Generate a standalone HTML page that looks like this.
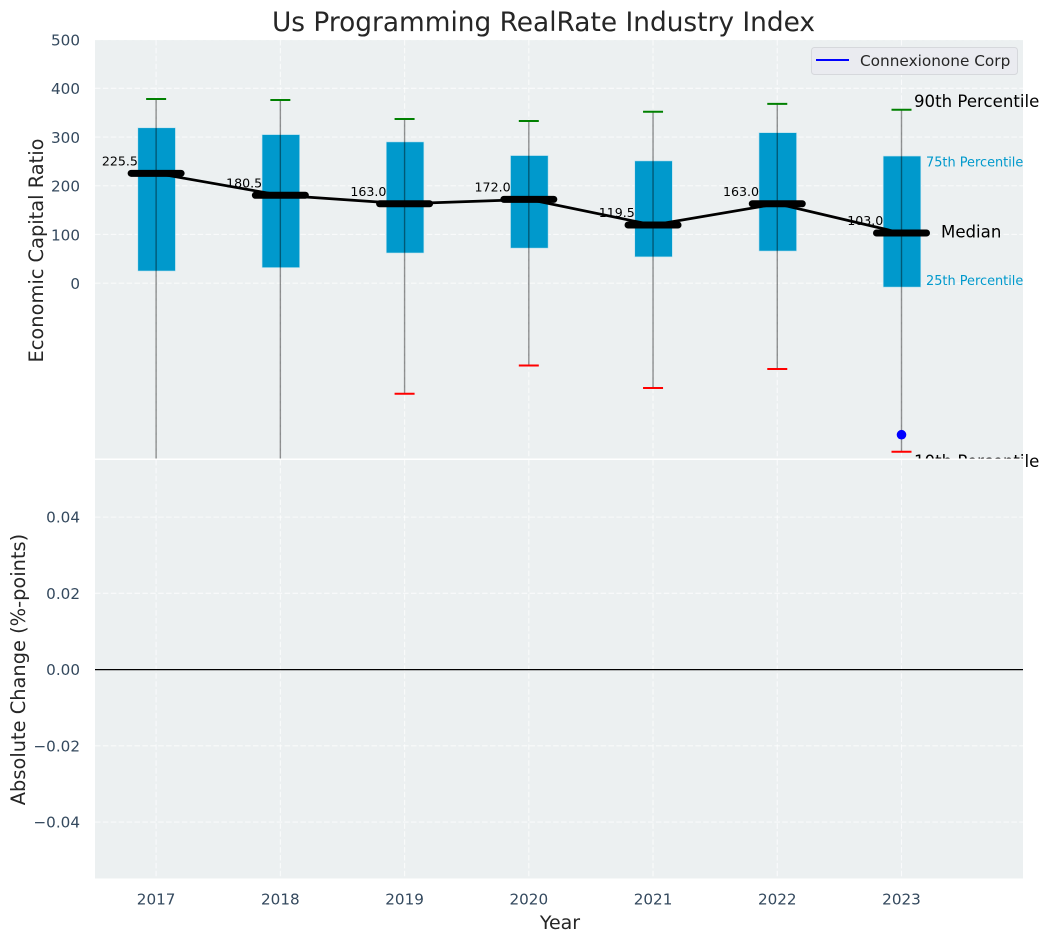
<!DOCTYPE html>
<html>
<head>
<meta charset="utf-8">
<title>Us Programming RealRate Industry Index</title>
<style>
html,body{margin:0;padding:0;background:#fff;}
svg{display:block;font-family:"DejaVu Sans","Liberation Sans",sans-serif;}
</style>
</head>
<body>
<svg id="chart" xmlns="http://www.w3.org/2000/svg" width="1049" height="942" viewBox="0 0 1049 942"></svg>
<script>
const years = [2017, 2018, 2019, 2020, 2021, 2022, 2023];
const p90 = [378, 376, 337, 333, 352, 368, 356];
const q3 = [319, 305, 290, 262, 251, 309, 261];
const medians = [225.5, 180.5, 163.0, 172.0, 119.5, 163.0, 103.0];
const q1 = [25, 32, 62, 72, 54, 66, -8];
const p10 = [-420, -420, -227, -169, -215, -176, -346];
const companyYears = [2023];
const companyValues = [-311];
const topTicks = [0, 100, 200, 300, 400, 500];
const bottomTicks = [-0.04, -0.02, 0, 0.02, 0.04];
const changeBaseline = [0];

const svg = document.getElementById('chart');
const NS = 'http://www.w3.org/2000/svg';
const L = 95, R = 1023, T1 = 40, B1 = 458.5, T2 = 460, B2 = 878.5;
const xScale = v => L + (v - 2016.508) * (R - L) / (2023.978 - 2016.508);
const yTop = v => 283.2 - v * 0.4872;
const yBot = v => 669.6 - v * 3812;
const DASH = '5.5 2.4';
const GRID_OPACITY = 0.72;

function add(parent, tag, attrs, text) {
  const el = document.createElementNS(NS, tag);
  for (const k in attrs) el.setAttribute(k, attrs[k]);
  if (text !== undefined) el.textContent = text;
  parent.appendChild(el);
  return el;
}
function fmtBot(v) {
  const s = Math.abs(v).toFixed(2);
  return v < 0 ? '\u2212' + s : s;
}

const defs = add(svg, 'defs', {});
const clip = add(defs, 'clipPath', {id: 'clipTop'});
add(clip, 'rect', {x: L, y: T1, width: R - L, height: B1 - T1});

/* Top panel */
const topPanel = add(svg, 'g', {});



const topBg = add(topPanel, 'rect', {x: L, y: T1, width: R - L, height: B1 - T1, fill: '#ecf0f1'});



topTicks.forEach(t => {
  const g = add(topPanel, 'line', {x1: L, x2: R, y1: yTop(t), y2: yTop(t), stroke: '#fff', 'stroke-width': 1.1, 'stroke-dasharray': DASH, opacity: GRID_OPACITY});
  
  
  const lab = add(svg, 'text', {x: 80, y: yTop(t) + 5.8, 'text-anchor': 'end', 'font-size': 15.2, fill: '#34495e'}, String(t));
  
  
});
years.forEach(y => {
  const g = add(topPanel, 'line', {x1: xScale(y), x2: xScale(y), y1: T1, y2: B1, stroke: '#fff', 'stroke-width': 1.1, 'stroke-dasharray': DASH, opacity: GRID_OPACITY});
  
  
});

const marks = add(topPanel, 'g', {'clip-path': 'url(#clipTop)'});



years.forEach((y, i) => {
  const x = xScale(y);
  const box = add(marks, 'rect', {x: x - 18.3, y: yTop(q3[i]), width: 37.6, height: yTop(q1[i]) - yTop(q3[i]), fill: '#0099cc', stroke: '#bfe3ef', 'stroke-width': 0.6});
  
  
});
years.forEach((y, i) => {
  const lab = add(marks, 'text', {x: xScale(y) - 18.2, y: yTop(medians[i]) - 8, 'text-anchor': 'end', 'font-size': 12.6, fill: '#000'}, medians[i].toFixed(1));
  
  
});
years.forEach((y, i) => {
  const x = xScale(y);
  const wh = add(marks, 'line', {x1: x, x2: x, y1: yTop(p90[i]), y2: yTop(p10[i]), stroke: '#000', 'stroke-opacity': 0.42, 'stroke-width': 1.4});
  
  
  const c1 = add(marks, 'line', {x1: x - 10, x2: x + 10, y1: yTop(p90[i]), y2: yTop(p90[i]), stroke: '#008000', 'stroke-width': 2});
  
  
  const c2 = add(marks, 'line', {x1: x - 10, x2: x + 10, y1: yTop(p10[i]), y2: yTop(p10[i]), stroke: '#ff0000', 'stroke-width': 2});
  
  
});

const medianLine = add(marks, 'polyline', {points: years.map((y, i) => xScale(y) + ',' + yTop(medians[i])).join(' '), fill: 'none', stroke: '#000', 'stroke-width': 2.7});



years.forEach((y, i) => {
  const x = xScale(y);
  const m = add(marks, 'line', {x1: x - 25, x2: x + 25, y1: yTop(medians[i]), y2: yTop(medians[i]), stroke: '#000', 'stroke-width': 7, 'stroke-linecap': 'round'});
  
  
});

companyYears.forEach((y, i) => {
  const dot = add(marks, 'circle', {cx: xScale(y), cy: yTop(companyValues[i]), r: 4.8, fill: '#0000ff'});
  
  
});

/* Annotations on last year */
const last = years.length - 1;
const lastX = xScale(years[last]);
const a90 = add(svg, 'text', {x: lastX + 12.5, y: yTop(p90[last]) - 3, 'font-size': 16.6, fill: '#000'}, '90th Percentile');


const a75 = add(svg, 'text', {x: lastX + 24.5, y: yTop(q3[last]) + 10.5, 'font-size': 12.9, fill: '#0099cc'}, '75th Percentile');


const aMed = add(svg, 'text', {x: lastX + 39.5, y: yTop(medians[last]) + 4.5, 'font-size': 16.6, fill: '#000'}, 'Median');


const a25 = add(svg, 'text', {x: lastX + 24.5, y: yTop(q1[last]) - 2, 'font-size': 12.9, fill: '#0099cc'}, '25th Percentile');


const a10 = add(svg, 'text', {x: lastX + 12.5, y: yTop(p10[last]) + 15, 'font-size': 16.6, fill: '#000'}, '10th Percentile');



/* Legend */
const legend = add(svg, 'g', {});


const legBox = add(legend, 'rect', {x: 811.5, y: 47.5, width: 206, height: 27, rx: 3, fill: '#eaebf0', stroke: '#d6d8dc', 'stroke-width': 1});


const legLine = add(legend, 'line', {x1: 816, x2: 849, y1: 60, y2: 60, stroke: '#0000ff', 'stroke-width': 2});


const legText = add(legend, 'text', {x: 860, y: 66, 'font-size': 15.3, fill: '#262626'}, 'Connexionone Corp');



/* Bottom panel */
const botPanel = add(svg, 'g', {});


const sep = add(botPanel, 'rect', {x: 0, y: B1, width: R, height: T2 - B1, fill: '#fff'});


const botBg = add(botPanel, 'rect', {x: L, y: T2, width: R - L, height: B2 - T2, fill: '#ecf0f1'});



bottomTicks.forEach(t => {
  const g = add(botPanel, 'line', {x1: L, x2: R, y1: yBot(t), y2: yBot(t), stroke: '#fff', 'stroke-width': 1.1, 'stroke-dasharray': DASH, opacity: GRID_OPACITY});
  
  
  const lab = add(svg, 'text', {x: 80, y: yBot(t) + 5.5, 'text-anchor': 'end', 'font-size': 15.2, fill: '#34495e'}, fmtBot(t));
  
  
});
years.forEach(y => {
  const g = add(botPanel, 'line', {x1: xScale(y), x2: xScale(y), y1: T2, y2: B2, stroke: '#fff', 'stroke-width': 1.1, 'stroke-dasharray': DASH, opacity: GRID_OPACITY});
  
  
  const lab = add(svg, 'text', {x: xScale(y), y: 904.5, 'text-anchor': 'middle', 'font-size': 15.2, fill: '#34495e'}, String(y));
  
  
});
changeBaseline.forEach(v => {
  const z = add(botPanel, 'line', {x1: L, x2: R, y1: yBot(v), y2: yBot(v), stroke: '#000', 'stroke-width': 1.2});
  
  
});

/* Titles */
const title = add(svg, 'text', {x: 543.5, y: 31, 'text-anchor': 'middle', 'font-size': 26.4, fill: '#262626'}, 'Us Programming RealRate Industry Index');


const yt1 = add(svg, 'text', {x: 0, y: 0, transform: 'translate(43,250.5) rotate(-90)', 'text-anchor': 'middle', 'font-size': 19.4, fill: '#262626'}, 'Economic Capital Ratio');


const yt2 = add(svg, 'text', {x: 0, y: 0, transform: 'translate(25,669.5) rotate(-90)', 'text-anchor': 'middle', 'font-size': 19.4, fill: '#262626'}, 'Absolute Change (%-points)');


const xt = add(svg, 'text', {x: 560, y: 929, 'text-anchor': 'middle', 'font-size': 19, fill: '#262626'}, 'Year');


</script>
</body>
</html>
